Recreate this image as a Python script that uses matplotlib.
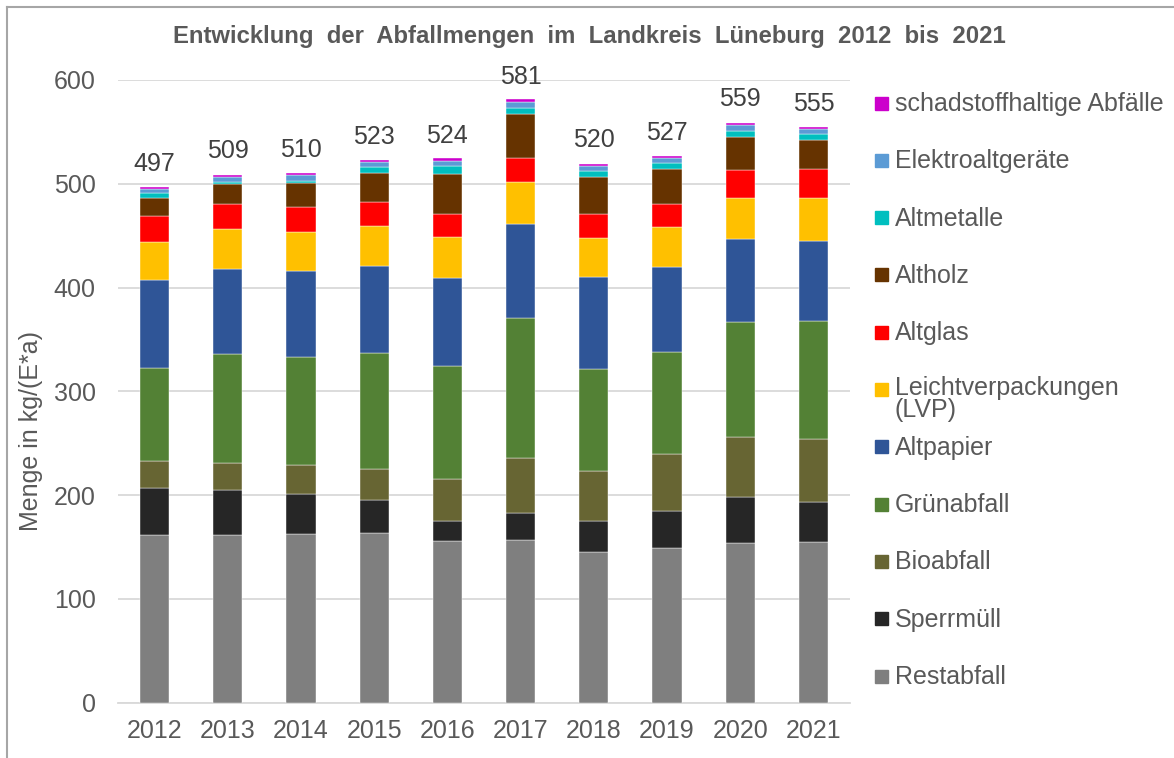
import matplotlib
matplotlib.use("Agg")
from matplotlib import pyplot as plt
from matplotlib.patches import Rectangle
from matplotlib.lines import Line2D
import numpy as np

plt.rcParams['font.family'] = ['Liberation Sans', 'DejaVu Sans']

years = ['2012', '2013', '2014', '2015', '2016', '2017', '2018', '2019', '2020', '2021']
totals = [497, 509, 510, 523, 524, 581, 520, 527, 559, 555]

# kg pro Einwohner und Jahr, von unten nach oben gestapelt
restabfall = [161.5, 161.5, 162.5, 163.7, 155.7, 157.0, 145.1, 149.0, 153.5, 154.4]
sperrmuell = [45.3, 43.0, 38.1, 31.8, 19.3, 25.3, 29.9, 35.6, 44.6, 38.5]
bioabfall = [25.6, 26.0, 28.6, 29.2, 40.7, 53.4, 47.8, 54.6, 58.1, 60.7]
gruenabfall = [90.5, 105.3, 103.4, 112.4, 108.9, 135.4, 98.9, 98.9, 110.7, 114.0]
altpapier = [84.5, 82.2, 83.2, 83.8, 84.4, 90.5, 88.9, 82.1, 80.0, 77.6]
lvp = [36.9, 38.5, 38.1, 38.5, 40.1, 39.9, 37.5, 38.5, 39.8, 41.5]
altglas = [24.7, 24.4, 24.1, 23.1, 22.1, 23.1, 23.1, 22.2, 26.9, 27.6]
altholz = [17.1, 19.0, 22.8, 28.2, 38.6, 43.0, 35.7, 33.7, 31.8, 28.2]
altmetalle = [5.3, 2.2, 2.3, 5.5, 7.4, 5.7, 5.8, 5.5, 5.8, 5.1]
elektro = [3.3, 4.8, 5.4, 4.8, 5.1, 5.2, 4.8, 5.1, 5.5, 5.1]
schadstoffe = [2.3, 1.9, 1.9, 2.0, 2.3, 2.9, 1.6, 1.9, 1.9, 2.0]

series = [
    ('Restabfall', restabfall, '#7f7f7f'),
    ('Sperrmüll', sperrmuell, '#262626'),
    ('Bioabfall', bioabfall, '#676533'),
    ('Grünabfall', gruenabfall, '#538135'),
    ('Altpapier', altpapier, '#2f5597'),
    ('Leichtverpackungen\n(LVP)', lvp, '#ffc000'),
    ('Altglas', altglas, '#ff0000'),
    ('Altholz', altholz, '#663300'),
    ('Altmetalle', altmetalle, '#00bfbf'),
    ('Elektroaltgeräte', elektro, '#5b9bd5'),
    ('schadstoffhaltige Abfälle', schadstoffe, '#cc00cc'),
]

grey = '#595959'

fig = plt.figure(figsize=(11.74, 7.58), dpi=100)
ax = fig.add_axes([0.1005, 0.073, 0.6235, 0.8215])

x = np.arange(len(years))
bottom = np.zeros(len(years))
for name, vals, col in series:
    ax.bar(x, vals, width=0.4, bottom=bottom, color=col,
           edgecolor='white', linewidth=0.3, zorder=3)
    bottom += np.array(vals)

for i, t in enumerate(totals):
    ax.annotate(str(t), (x[i], t), xytext=(0, 8), textcoords='offset points',
                ha='center', va='bottom', fontsize=18, color='#404040')

ax.set_xlim(-0.5, len(years) - 0.5)
ax.set_ylim(0, 600)
ax.set_yticks(range(0, 601, 100))
ax.set_xticks(x)
ax.set_xticklabels(years)
ax.tick_params(axis='both', length=0, labelsize=18, labelcolor=grey)
ax.tick_params(axis='y', pad=16)
ax.tick_params(axis='x', pad=12)
ax.grid(axis='y', color='#d9d9d9', linewidth=1.3, zorder=0)
for s in ['top', 'right', 'left']:
    ax.spines[s].set_visible(False)
ax.spines['bottom'].set_color('#d9d9d9')
ax.spines['bottom'].set_linewidth(1.3)

ax.set_ylabel('Menge in kg/(E*a)', fontsize=18, color=grey)
ax.yaxis.set_label_coords(-0.102, 0.437)

fig.text(0.502, 0.952, 'Entwicklung  der  Abfallmengen  im  Landkreis  Lüneburg  2012  bis  2021',
         ha='center', va='center', fontsize=17.2, fontweight='bold', color=grey)

# Legende von Hand, damit der zweizeilige Eintrag den Abstand nicht verschiebt
W, H = 1174.0, 758.0
y0, step = 103.0, 57.3
for k, (name, vals, col) in enumerate(series[::-1]):
    yc = y0 + k * step
    fig.add_artist(Rectangle((875 / W, 1 - (yc + 6.5) / H), 13 / W, 13 / H,
                             transform=fig.transFigure, color=col))
    if '\n' in name:
        fig.text(895 / W, 1 - (yc - 13) / H, name, ha='left', va='top',
                 fontsize=18, color=grey, linespacing=0.88)
    else:
        fig.text(895 / W, 1 - (yc + 1) / H, name, ha='left', va='center',
                 fontsize=18, color=grey)

# Rahmen oben und links
fig.add_artist(Line2D([7 / W, 7 / W], [0, 1 - 7 / H], transform=fig.transFigure,
                      color='#a6a6a6', linewidth=1.5))
fig.add_artist(Line2D([7 / W, 1], [1 - 7 / H, 1 - 7 / H], transform=fig.transFigure,
                      color='#a6a6a6', linewidth=1.5))

fig.savefig('out.png', dpi=100)
